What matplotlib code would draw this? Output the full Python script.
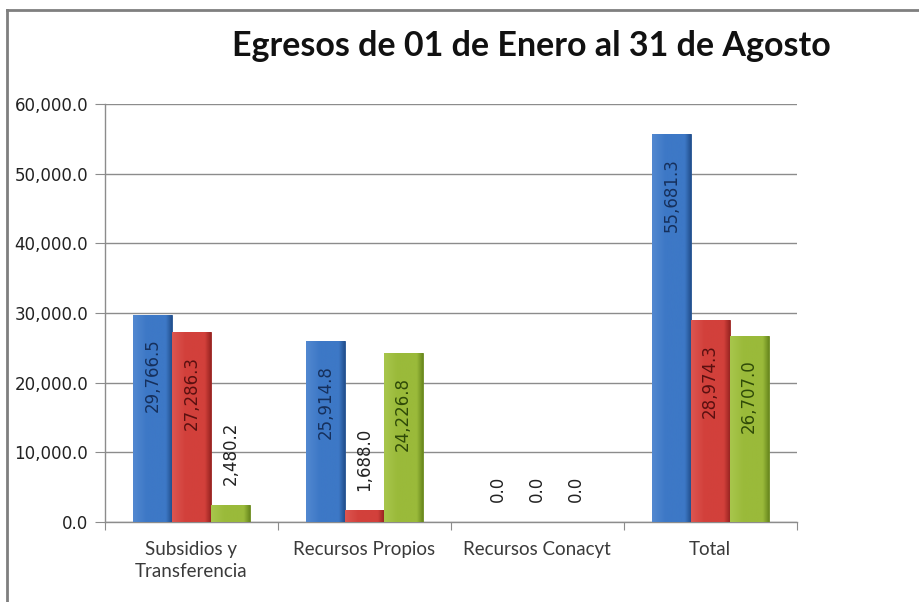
import numpy as np
import matplotlib
matplotlib.use("Agg")
import matplotlib.pyplot as plt
from matplotlib.lines import Line2D
from matplotlib.colors import LinearSegmentedColormap

categories = ["Subsidios y\nTransferencia", "Recursos Propios", "Recursos Conacyt", "Total"]
serie_azul = [29766.5, 25914.8, 0.0, 55681.3]
serie_roja = [27286.3, 1688.0, 0.0, 28974.3]
serie_verde = [2480.2, 24226.8, 0.0, 26707.0]
y_ticks = [0, 10000, 20000, 30000, 40000, 50000, 60000]

series = [serie_azul, serie_roja, serie_verde]
base_colors = ["#3d78c6", "#d2403b", "#9aba3a"]
light_colors = ["#5288d0", "#dc5550", "#a8c64c"]
dark_colors = ["#23518f", "#9a2522", "#6b8a1f"]
label_colors = ["#16305c", "#5a1010", "#2f4a08"]

fig = plt.figure(figsize=(9.2, 6.02), dpi=100)
ax = fig.add_axes([0.114, 0.133, 0.752, 0.694])

x = np.arange(len(categories))
width = 0.225
offsets = [-width, 0, width]

grad = np.linspace(0, 1, 64).reshape(1, -1)
for i, vals in enumerate(series):
    bars = ax.bar(x + offsets[i], vals, width, color=base_colors[i],
                  edgecolor=dark_colors[i], linewidth=0.6, zorder=3)
    cmap = LinearSegmentedColormap.from_list(
        "g%d" % i, [(0, light_colors[i]), (0.35, base_colors[i]),
                    (0.85, base_colors[i]), (1, dark_colors[i])])
    for b, v in zip(bars, vals):
        bx, bw, bh = b.get_x(), b.get_width(), b.get_height()
        txt = "{:,.1f}".format(v)
        if v > 10000:
            ax.annotate(txt, (bx + bw / 2, bh), xytext=(0, -17),
                        textcoords="offset points", rotation=90,
                        ha="center", va="top", fontsize=12,
                        color=label_colors[i], zorder=5)
        else:
            ax.annotate(txt, (bx + bw / 2, bh), xytext=(0, 14),
                        textcoords="offset points", rotation=90,
                        ha="center", va="bottom", fontsize=12,
                        color="#222222", zorder=5)
        if v <= 0:
            continue
        im = ax.imshow(grad, extent=[bx, bx + bw, 0, bh], aspect="auto",
                       cmap=cmap, zorder=3.5, origin="lower")
        im.set_clip_path(b)

ax.set_xlim(-0.5, len(categories) - 0.5)
ax.set_ylim(0, 60000)
ax.set_yticks(y_ticks)
ax.set_yticklabels(["{:,.1f}".format(t) for t in y_ticks], fontsize=12, color="#222222")
ax.tick_params(axis="y", length=7, color="#8c8c8c", pad=5)

bounds = np.arange(-0.5, len(categories))
ax.set_xticks(bounds)
ax.set_xticklabels([""] * len(bounds))
ax.set_xticks(x, minor=True)
ax.set_xticklabels(categories, minor=True, fontsize=13.5, color="#3a3a3a",
                   family=["Lato", "DejaVu Sans"], linespacing=1.35)
ax.tick_params(axis="x", which="major", length=6, color="#8c8c8c")
ax.tick_params(axis="x", which="minor", length=0, pad=14)

ax.grid(axis="y", color="#8c8c8c", linewidth=1.0, zorder=0)
ax.set_axisbelow(True)
for s in ["top", "right"]:
    ax.spines[s].set_visible(False)
for s in ["left", "bottom"]:
    ax.spines[s].set_color("#8c8c8c")
    ax.spines[s].set_linewidth(1.0)

fig.text(0.578, 0.924, "Egresos de 01 de Enero al 31 de Agosto", ha="center", va="center",
         fontsize=24.5, fontweight="bold", family=["Lato", "DejaVu Sans"], color="#111111")

# chart frame
fig.add_artist(Line2D([0.008, 1.0], [0.983, 0.983], color="#7f7f7f", linewidth=2,
                      transform=fig.transFigure))
fig.add_artist(Line2D([0.008, 0.008], [0.0, 0.983], color="#7f7f7f", linewidth=2,
                      transform=fig.transFigure))

fig.savefig("out.png", dpi=100)
